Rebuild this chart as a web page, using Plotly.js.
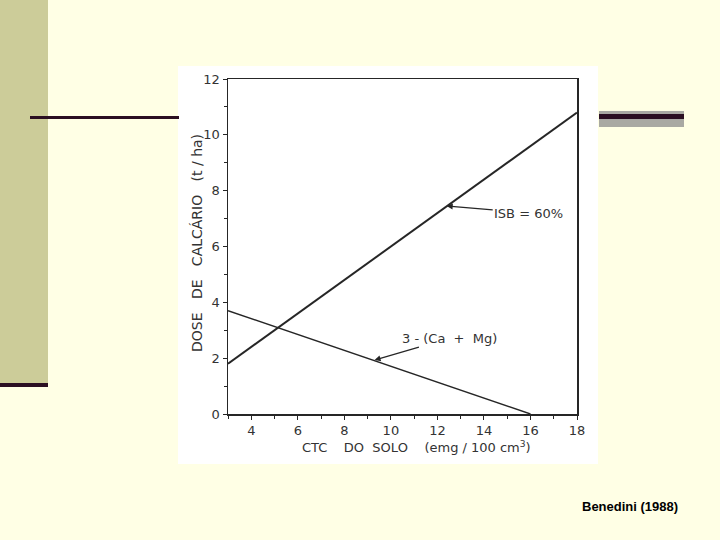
<!DOCTYPE html>
<html>
<head>
<meta charset="utf-8">
<script src="https://cdn.plot.ly/plotly-3.0.1.min.js"></script>
<style>html,body{margin:0;padding:0;background:#FFFFE5;}#chart{width:720px;height:540px;}</style>
</head>
<body>
<div id="chart"></div>
<script>
// Data
const ctc = [3, 18];
const isb60 = [1.8, 10.8];
const ctcCaMg = [3, 16];
const caMg = [3.7, 0];
const xTicks = [4, 6, 8, 10, 12, 14, 16, 18];
const yTicks = [0, 2, 4, 6, 8, 10, 12];
const labelIsb = "ISB = 60%";
const labelCaMg = "3 - (Ca &nbsp;+ &nbsp;Mg)";
const xTitle = "CTC &nbsp;&nbsp; DO &nbsp;SOLO &nbsp;&nbsp; (emg / 100 cm<sup>3</sup>)";
const yTitle = "DOSE &nbsp;&nbsp;DE &nbsp;&nbsp;CALCÁRIO &nbsp;&nbsp;(t / ha)";
const source = "Benedini (1988)";

// plot area in pixels
const L = 228, R = 577, T = 79, B = 414;
const W = 720, H = 540;
const px = v => (v - L) / (R - L);
const py = v => (B - v) / (B - T);
const ink = '#262626';
const fnt = {family: 'DejaVu Sans, sans-serif', size: 13, color: '#333'};
const fntTitle = {family: 'DejaVu Sans, sans-serif', size: 14, color: '#333'};

const traces = [
  {x: ctc, y: isb60, mode: 'lines', line: {color: ink, width: 2}, hoverinfo: 'skip'},
  {x: ctcCaMg, y: caMg, mode: 'lines', line: {color: ink, width: 1.4}, hoverinfo: 'skip'}
];

const rect = (x0, y0, x1, y1, color) => ({type: 'rect', xref: 'paper', yref: 'paper',
  x0: px(x0), x1: px(x1), y0: py(y1), y1: py(y0), fillcolor: color, line: {width: 0}, layer: 'below'});

const layout = {
  width: W, height: H,
  margin: {l: L, r: W - R, t: T, b: H - B, pad: 0},
  paper_bgcolor: '#FFFFE5',
  plot_bgcolor: '#FFFFFF',
  showlegend: false,
  font: fnt,
  xaxis: {range: [3, 18], tickvals: xTicks, ticks: 'outside', ticklen: 4, tickwidth: 1,
    tickcolor: ink, showline: true, linecolor: ink, linewidth: 1.5, mirror: true,
    showgrid: false, zeroline: false, tickfont: fnt,
    minor: {dtick: 1, ticks: 'outside', ticklen: 3, tickcolor: ink}},
  yaxis: {range: [0, 12], tickvals: yTicks, ticks: 'outside', ticklen: 4, tickwidth: 1,
    tickcolor: ink, showline: true, linecolor: ink, linewidth: 1.5, mirror: true,
    showgrid: false, zeroline: false, tickfont: fnt,
    minor: {dtick: 1, ticks: 'outside', ticklen: 3, tickcolor: ink}},
  shapes: [
    rect(178, 66, 598, 464, '#FFFFFF'),
    rect(0, 0, 48, 383, '#CCCC99'),
    rect(0, 383, 48, 387, '#2B0F22'),
    rect(30, 116, 179, 119, '#2B0F22'),
    rect(599, 111, 684, 127, '#A9A9A3'),
    rect(599, 114, 684, 119, '#2B0F22')
  ],
  annotations: [
    {x: 12.4, y: 7.45, xref: 'x', yref: 'y', text: labelIsb, showarrow: true,
      ax: 82, ay: 7, arrowhead: 2, arrowsize: 1, arrowwidth: 1.2, arrowcolor: ink, font: fnt},
    {x: 9.3, y: 1.93, xref: 'x', yref: 'y', text: labelCaMg, showarrow: true,
      ax: 75, ay: -22, arrowhead: 2, arrowsize: 1, arrowwidth: 1.2, arrowcolor: ink, font: fnt},
    {x: px(416), y: py(447), xref: 'paper', yref: 'paper', text: xTitle, showarrow: false,
      font: fnt, xanchor: 'center', yanchor: 'middle'},
    {x: px(197), y: py(243), xref: 'paper', yref: 'paper', text: yTitle, showarrow: false,
      textangle: -90, font: fntTitle, xanchor: 'center', yanchor: 'middle'},
    {x: px(680), y: py(506), xref: 'paper', yref: 'paper', text: '<b>' + source + '</b>', showarrow: false,
      font: {family: 'Liberation Sans, Arial, sans-serif', size: 13, color: '#000'},
      xanchor: 'right', yanchor: 'middle'}
  ]
};

Plotly.newPlot('chart', traces, layout, {displayModeBar: false, staticPlot: true});
</script>
</body>
</html>
